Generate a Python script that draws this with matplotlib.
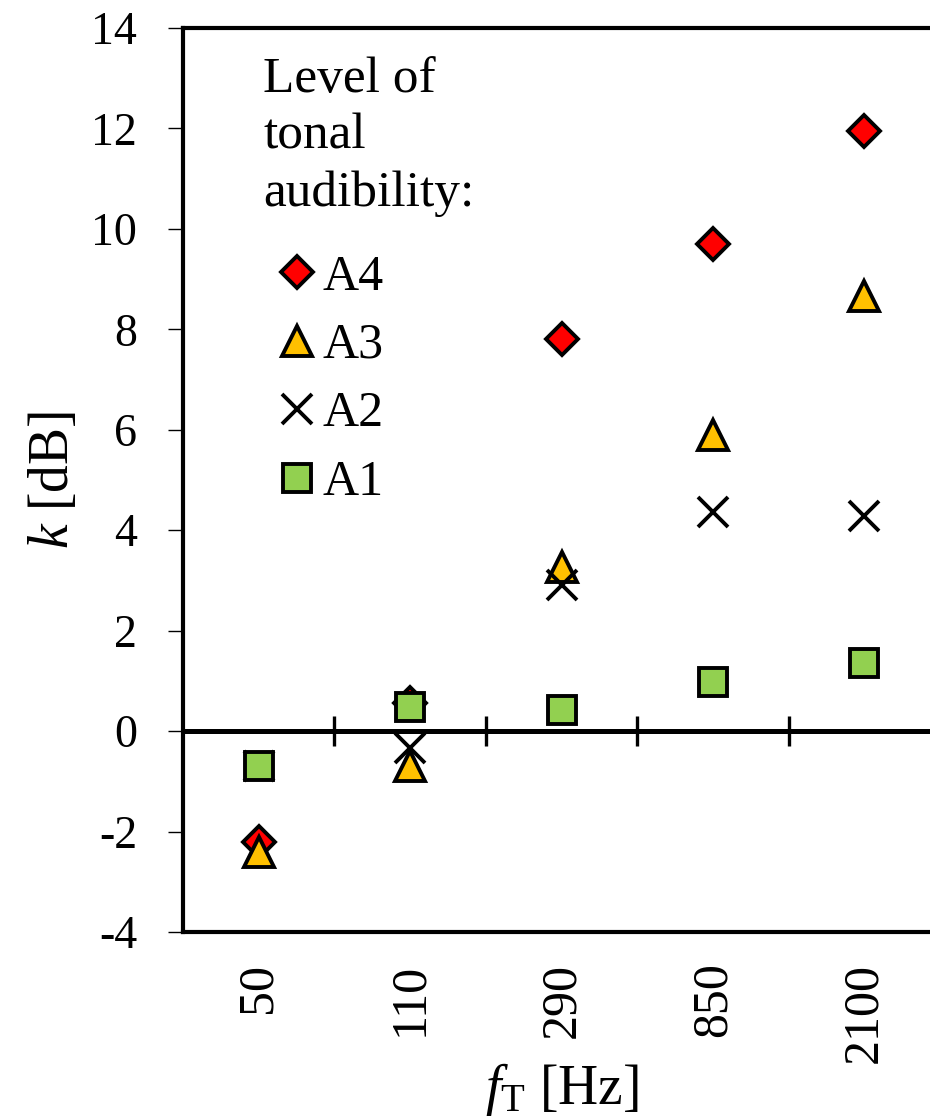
import matplotlib
matplotlib.use('Agg')
import matplotlib.pyplot as plt

# tonal audibility levels vs tone frequency
freqs = ['50', '110', '290', '850', '2100']
a4 = [-2.2, 0.56, 7.8, 9.7, 11.95]
a3 = [-2.4, -0.7, 3.26, 5.9, 8.66]
a2 = [-0.7, -0.34, 2.9, 4.36, 4.28]
a1 = [-0.7, 0.48, 0.42, 0.98, 1.35]

plt.rcParams['font.family'] = 'Liberation Serif'
plt.rcParams['mathtext.fontset'] = 'custom'
plt.rcParams['mathtext.rm'] = 'Liberation Serif'
plt.rcParams['mathtext.it'] = 'Liberation Serif:italic'
plt.rcParams['axes.unicode_minus'] = False

fig = plt.figure(figsize=(9.3, 11.18), dpi=100)
ax = fig.add_axes([183 / 930, 186 / 1118, 757 / 930, 904 / 1118])

x = [i + 0.5 for i in range(len(freqs))]
ax.plot(x, a4, ls='none', marker='D', ms=16.5, mfc='#FF0000', mec='black', mew=2.8, label='A4', zorder=3)
ax.plot(x, a3, ls='none', marker='^', ms=21, mfc='#FFC000', mec='black', mew=2.8, label='A3', zorder=4)
ax.plot(x, a2, ls='none', marker='x', ms=22, mec='black', mew=2.8, label='A2', zorder=5)
ax.plot(x, a1, ls='none', marker='s', ms=20, mfc='#92D050', mec='black', mew=2.8, label='A1', zorder=6)

# zero line with category separators
ax.axhline(0, color='black', lw=3.6, zorder=2)
bounds = list(range(1, len(freqs)))
ax.plot(bounds, [0] * len(bounds), ls='none', marker='|', ms=22, mew=2.4, color='black', zorder=2)

ax.set_xlim(0, len(freqs))
ax.set_ylim(-4, 14)
ax.set_yticks(range(-4, 15, 2))
ax.set_xticks(x)
ax.set_xticklabels(freqs, rotation=90, va='top', fontsize=36)
ax.tick_params(axis='x', length=0, pad=22)
ax.tick_params(axis='y', direction='out', length=11, width=1, labelsize=33, pad=22)

for s in ['left', 'top', 'bottom']:
    ax.spines[s].set_linewidth(3)
ax.spines['right'].set_visible(False)

ax.set_ylabel(r'$k$ [dB]', fontsize=40)
ax.yaxis.set_label_coords(-0.136, 0.5)
ax.set_xlabel(r'$f_\mathrm{T}$ [Hz]', fontsize=40)
ax.xaxis.set_label_coords(0.5, -0.143)

ax.text(0.106, 0.969, 'Level of\ntonal\naudibility:', transform=ax.transAxes,
        ha='left', va='top', fontsize=37, linespacing=1.3)
leg = ax.legend(loc='upper left', bbox_to_anchor=(0.1215, 0.750), frameon=False,
                fontsize=36, numpoints=1, handlelength=0.9, handletextpad=0.05,
                labelspacing=0.44, borderpad=0, borderaxespad=0)

fig.savefig('out.png', dpi=100)
